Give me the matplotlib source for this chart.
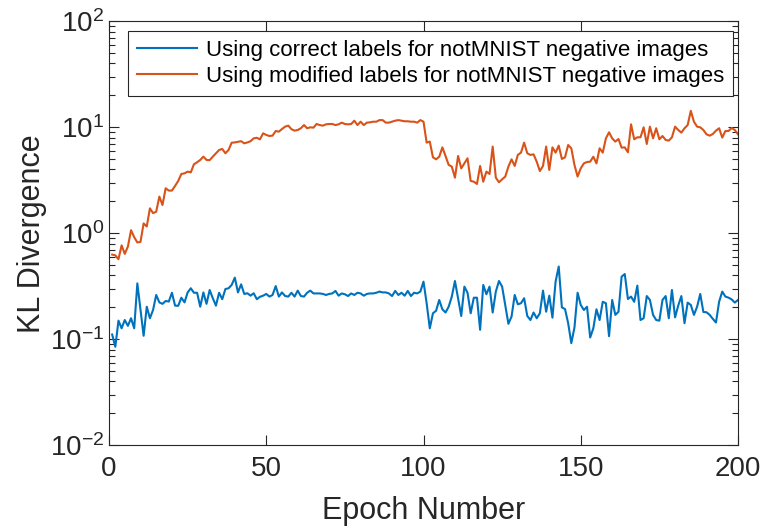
import numpy as np
import matplotlib
matplotlib.use("Agg")
import matplotlib.pyplot as plt
from matplotlib.ticker import LogLocator, NullFormatter

plt.rcParams['font.family'] = ['Liberation Sans', 'DejaVu Sans']
plt.rcParams['mathtext.fontset'] = 'custom'
plt.rcParams['mathtext.rm'] = 'Liberation Sans'

epochs = list(range(1, 201))

correct_labels = [
    0.111, 0.085, 0.150, 0.127, 0.152, 0.134, 0.158, 0.127, 0.337, 0.189,
    0.108, 0.203, 0.158, 0.189, 0.262, 0.223, 0.216, 0.230, 0.227, 0.275,
    0.208, 0.207, 0.247, 0.223, 0.277, 0.303, 0.275, 0.275, 0.203, 0.277,
    0.216, 0.292, 0.244, 0.208, 0.275, 0.239, 0.298, 0.303, 0.326, 0.382,
    0.277, 0.330, 0.268, 0.272, 0.258, 0.272, 0.239, 0.252, 0.258, 0.268,
    0.253, 0.262, 0.318, 0.253, 0.277, 0.256, 0.253, 0.275, 0.253, 0.288,
    0.256, 0.253, 0.275, 0.288, 0.271, 0.271, 0.271, 0.268, 0.262, 0.268,
    0.271, 0.286, 0.258, 0.271, 0.266, 0.256, 0.271, 0.262, 0.275, 0.271,
    0.258, 0.268, 0.271, 0.271, 0.275, 0.282, 0.277, 0.277, 0.271, 0.256,
    0.286, 0.262, 0.275, 0.258, 0.286, 0.256, 0.275, 0.271, 0.282, 0.350,
    0.219, 0.127, 0.176, 0.186, 0.235, 0.192, 0.179, 0.203, 0.253, 0.355,
    0.244, 0.166, 0.314, 0.275, 0.176, 0.247, 0.247, 0.123, 0.326, 0.266,
    0.314, 0.179, 0.282, 0.355, 0.314, 0.211, 0.140, 0.164, 0.262, 0.214,
    0.219, 0.244, 0.166, 0.152, 0.179, 0.158, 0.176, 0.288, 0.182, 0.258,
    0.160, 0.350, 0.486, 0.200, 0.193, 0.142, 0.092, 0.129, 0.275, 0.211,
    0.189, 0.203, 0.104, 0.127, 0.192, 0.152, 0.226, 0.219, 0.107, 0.235,
    0.170, 0.182, 0.390, 0.413, 0.240, 0.253, 0.226, 0.321, 0.152, 0.158,
    0.256, 0.235, 0.170, 0.152, 0.150, 0.235, 0.256, 0.158, 0.292, 0.161,
    0.208, 0.256, 0.142, 0.222, 0.211, 0.170, 0.203, 0.268, 0.181, 0.180,
    0.170, 0.156, 0.144, 0.226, 0.282, 0.253, 0.247, 0.238, 0.222, 0.235,
]

modified_labels = [
    0.63, 0.62, 0.57, 0.77, 0.64, 0.75, 1.07, 0.92, 0.82, 0.83,
    1.24, 1.16, 1.72, 1.55, 1.60, 2.22, 1.85, 2.66, 2.53, 2.53,
    2.80, 3.12, 3.63, 3.68, 3.82, 3.76, 4.48, 4.68, 4.92, 5.29,
    4.92, 4.90, 5.29, 5.69, 6.11, 6.25, 5.69, 6.11, 7.16, 7.20,
    7.30, 7.40, 7.06, 7.20, 7.40, 7.87, 7.97, 7.70, 8.78, 8.47,
    8.28, 8.35, 9.23, 9.10, 9.64, 10.15, 10.37, 9.60, 9.30, 9.44,
    9.80, 10.50, 9.80, 10.00, 9.93, 10.75, 10.50, 10.37, 10.67, 10.75,
    10.75, 10.50, 10.67, 11.07, 10.75, 10.67, 10.75, 11.55, 10.50, 11.30,
    10.50, 11.07, 11.15, 11.30, 11.30, 11.70, 11.70, 11.07, 11.07, 11.30,
    11.55, 11.70, 11.55, 11.40, 11.40, 11.30, 11.30, 11.07, 11.70, 11.30,
    7.17, 7.33, 5.21, 4.99, 5.28, 6.47, 5.37, 4.42, 4.26, 3.35,
    5.37, 4.10, 4.57, 5.10, 3.12, 3.07, 2.92, 4.32, 3.07, 3.82,
    3.63, 6.58, 3.35, 3.03, 3.23, 3.43, 4.26, 4.99, 4.32, 5.49,
    5.77, 7.17, 5.69, 5.49, 5.56, 4.74, 3.87, 4.32, 6.58, 3.96,
    6.47, 5.77, 6.72, 5.03, 5.21, 6.81, 6.34, 4.42, 3.43, 4.10,
    4.57, 4.71, 4.74, 5.28, 4.57, 6.34, 5.77, 7.87, 8.97, 7.87,
    7.33, 7.76, 6.43, 6.47, 5.81, 10.67, 7.71, 8.05, 8.05, 10.00,
    6.96, 10.15, 7.87, 9.80, 7.71, 8.28, 7.60, 7.49, 8.05, 10.15,
    9.44, 8.91, 9.80, 10.50, 14.30, 11.30, 10.15, 10.00, 9.44, 8.59,
    8.34, 8.65, 9.30, 9.80, 8.00, 9.23, 9.23, 9.86, 9.44, 8.59,
]

legend_labels = ["Using correct labels for notMNIST negative images",
                 "Using modified labels for notMNIST negative images"]
x_ticks = [0, 50, 100, 150, 200]

fig = plt.figure(figsize=(7.63, 5.29), dpi=100)
ax = fig.add_axes([0.1429, 0.1582, 0.9672 - 0.1429, 0.9597 - 0.1582])

ax.plot(epochs, correct_labels, color='#0072BD', lw=1.5, label=legend_labels[0])
ax.plot(epochs, modified_labels, color='#D95319', lw=1.5, label=legend_labels[1])

ax.set_yscale('log')
ax.set_xlim(0, 200)
ax.set_ylim(1e-2, 1e2)
ax.set_xticks(x_ticks)
ax.yaxis.set_major_locator(LogLocator(base=10, numticks=10))
ax.yaxis.set_minor_locator(LogLocator(base=10, subs=np.arange(2, 10), numticks=20))
ax.yaxis.set_minor_formatter(NullFormatter())

axis_col = '#262626'
for s in ax.spines.values():
    s.set_color(axis_col)
    s.set_linewidth(0.8)
ax.tick_params(which='both', direction='in', top=True, right=True, colors=axis_col,
               labelcolor='#262626')
ax.tick_params(which='major', length=7, width=0.8, labelsize=20)
ax.tick_params(which='minor', length=4, width=0.8)
ax.tick_params(axis='x', pad=8)

ax.set_xlabel('Epoch Number', fontsize=22, color='#262626', labelpad=10)
ax.set_ylabel('KL Divergence', fontsize=22, color='#262626', labelpad=2)

leg = ax.legend(loc='upper left', bbox_to_anchor=(0.03, 0.978), fontsize=16,
                frameon=True, fancybox=False, edgecolor=axis_col, framealpha=1,
                handlelength=2.7, handletextpad=0.4, borderpad=0.4, labelspacing=0.25,
                borderaxespad=0)
leg.get_frame().set_linewidth(0.8)

fig.savefig('out.png', dpi=100)
